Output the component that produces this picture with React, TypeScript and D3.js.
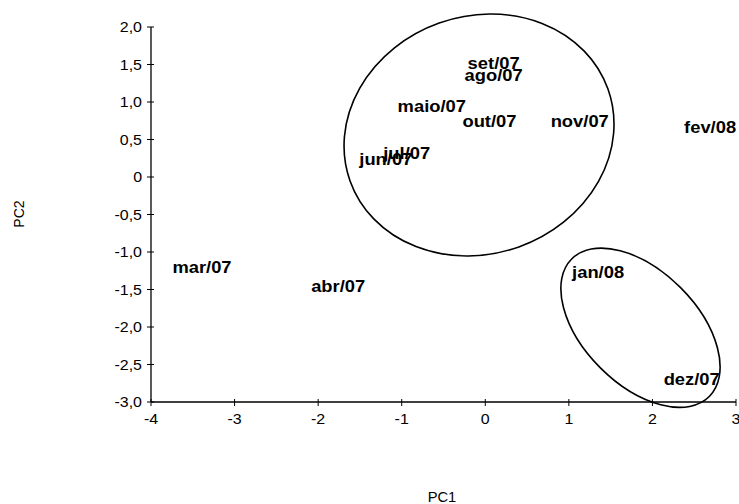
import React from "react";
import * as d3 from "d3";

const monthLabels = ["mar/07", "abr/07", "maio/07", "jun/07", "jul/07", "ago/07", "set/07", "out/07", "nov/07", "dez/07", "jan/08", "fev/08"];
const pc1Values = [-3.39, -1.76, -0.64, -1.19, -0.94, 0.1, 0.1, 0.05, 1.13, 2.47, 1.35, 2.69];
const pc2Values = [-1.2, -1.45, 0.95, 0.24, 0.32, 1.36, 1.52, 0.75, 0.75, -2.69, -1.27, 0.67];

const xTicks = [-4, -3, -2, -1, 0, 1, 2, 3];
const yTicks = [2, 1.5, 1, 0.5, 0, -0.5, -1, -1.5, -2, -2.5, -3];

// cluster ellipses: centre in data units
const clusterCx = [-0.075, 1.857];
const clusterCy = [0.56, -2.01];

const W = 739;
const H = 504;

export default function App() {
  const x = d3.scaleLinear().domain([-4, 3]).range([151, 736]);
  const y = d3.scaleLinear().domain([-3, 2]).range([402, 27]);
  const fmtY = (v: number) => (v === 0 ? "0" : d3.format(".1f")(v).replace(".", ",").replace("−", "-"));
  const font = "Liberation Sans, Arial, sans-serif";
  const tickSx = 1.14;
  const labSx = 1.08;
  const ellipseShape = [
    { rx: 136.9, ry: 118.8, rot: -19.6 },
    { rx: 97.3, ry: 56.7, rot: 45 },
  ];
  return (
    <svg width={W} height={H} style={{ position: "absolute", left: 0, top: 0, background: "#fff" }} fontFamily={font}>
      {/* axes */}
      <line x1={x(-4)} x2={x(-4)} y1={y(2)} y2={y(-3)} stroke="#000" strokeWidth={1.3} />
      <line x1={x(-4)} x2={x(3)} y1={y(-3)} y2={y(-3)} stroke="#000" strokeWidth={1.3} />
      {yTicks.map((t) => (
        <g key={"y" + t}>
          <line x1={x(-4) - 4} x2={x(-4) + 3} y1={y(t)} y2={y(t)} stroke="#000" strokeWidth={1} />
          <text transform={`translate(${x(-4) - 9},${y(t)}) scale(${tickSx},1)`} dy="0.36em" textAnchor="end" fontSize={14} fill="#000">
            {fmtY(t)}
          </text>
        </g>
      ))}
      {xTicks.map((t) => (
        <g key={"x" + t}>
          <line x1={x(t)} x2={x(t)} y1={y(-3) - 3} y2={y(-3) + 4} stroke="#000" strokeWidth={1} />
          <text transform={`translate(${x(t)},${y(-3) + 22}) scale(${tickSx},1)`} textAnchor="middle" fontSize={14} fill="#000">
            {t}
          </text>
        </g>
      ))}
      <text x={19} y={214} transform="rotate(-90 19 214)" dy="0.35em" textAnchor="middle" fontSize={14}>
        PC2
      </text>
      <text transform={`translate(442,502) scale(1.05,1)`} textAnchor="middle" fontSize={14}>
        PC1
      </text>
      {monthLabels.map((m, i) => (
        <text
          key={m}
          transform={`translate(${x(pc1Values[i])},${y(pc2Values[i])}) scale(${labSx},1)`}
          dy="0.35em"
          textAnchor="middle"
          fontSize={17}
          fontWeight="bold"
          fill="#000"
        >
          {m}
        </text>
      ))}
      {clusterCx.map((cx, i) => (
        <ellipse
          key={i}
          cx={0}
          cy={0}
          rx={ellipseShape[i].rx}
          ry={ellipseShape[i].ry}
          transform={`translate(${x(cx)},${y(clusterCy[i])}) rotate(${ellipseShape[i].rot})`}
          fill="none"
          stroke="#000"
          strokeWidth={1.6}
        />
      ))}
    </svg>
  );
}
